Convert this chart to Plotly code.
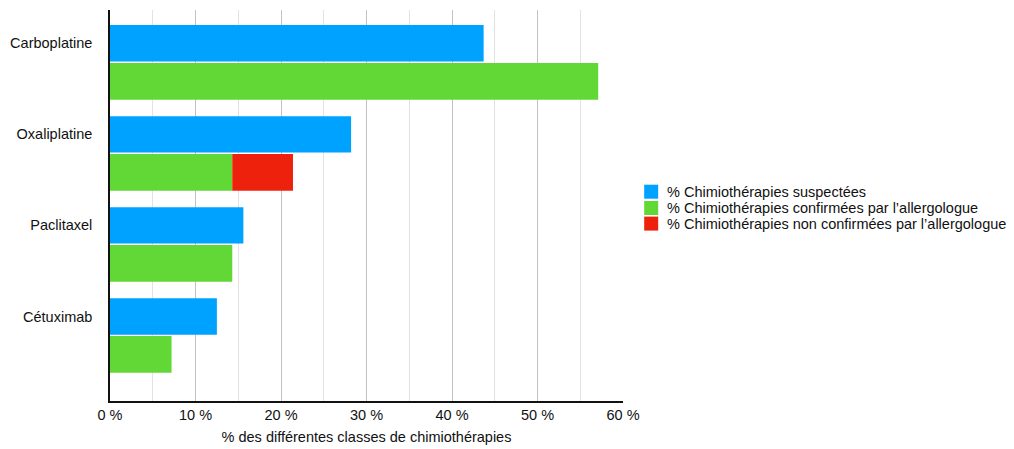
import plotly.graph_objects as go

categories = ["Carboplatine", "Oxaliplatine", "Paclitaxel", "Cétuximab"]
suspectees = [43.7, 28.2, 15.6, 12.5]
confirmees = [57.1, 14.3, 14.3, 7.2]
non_confirmees = [0, 7.1, 0, 0]

series_names = [
    "% Chimiothérapies suspectées",
    "% Chimiothérapies confirmées par l\u2019allergologue",
    "% Chimiothérapies non confirmées par l\u2019allergologue",
]
series_colors = ["#00A2FF", "#61D836", "#EE220C"]
tick_vals = [0, 10, 20, 30, 40, 50, 60]
tick_text = [f"{v} %" for v in tick_vals]

FONT = "Arial, Liberation Sans, sans-serif"
FS = 14.5

# plot area in pixels (for positioning the legend in paper units)
PX0, PX1, PY0, PY1 = 110, 623.3, 10, 401


def px_to_paper_x(px):
    return (px - PX0) / (PX1 - PX0)


def px_to_paper_y(py):
    return (PY1 - py) / (PY1 - PY0)


fig = go.Figure()
fig.add_trace(go.Bar(
    y=categories, x=suspectees, orientation="h", name=series_names[0],
    marker=dict(color=series_colors[0], line=dict(width=0)), offset=-0.2, width=0.4,
))
fig.add_trace(go.Bar(
    y=categories, x=confirmees, orientation="h", name=series_names[1],
    marker=dict(color=series_colors[1], line=dict(width=0)), offset=0.215, width=0.405,
))
fig.add_trace(go.Bar(
    y=categories, x=non_confirmees, base=confirmees, orientation="h", name=series_names[2],
    marker=dict(color=series_colors[2], line=dict(width=0)), offset=0.215, width=0.405,
))

# manual legend (compact spacing as in the reference)
legend_rows_px = [191.7, 208.0, 223.6]
shapes = []
annotations = []
for name, color, cy in zip(series_names, series_colors, legend_rows_px):
    shapes.append(dict(
        type="rect", xref="paper", yref="paper",
        x0=px_to_paper_x(644.5), x1=px_to_paper_x(658.5),
        y0=px_to_paper_y(cy + 7), y1=px_to_paper_y(cy - 7),
        fillcolor=color, line=dict(width=0), layer="above",
    ))
    annotations.append(dict(
        xref="paper", yref="paper", x=px_to_paper_x(665.5), y=px_to_paper_y(cy),
        xanchor="left", yanchor="middle", text=name, showarrow=False,
        font=dict(family=FONT, size=FS, color="#111"),
    ))

fig.update_layout(
    width=1014, height=449,
    margin=dict(l=PX0, r=1014 - PX1, t=PY0, b=449 - PY1, autoexpand=False),
    paper_bgcolor="white", plot_bgcolor="white",
    barmode="overlay",
    font=dict(family=FONT, size=FS, color="#111"),
    showlegend=False,
    shapes=shapes,
    annotations=annotations,
    xaxis=dict(
        range=[0, 60], tickvals=tick_vals, ticktext=tick_text,
        showgrid=True, gridcolor="#c2c2c2", gridwidth=1,
        minor=dict(dtick=5, showgrid=True, gridcolor="#e2e2e2", gridwidth=1),
        showline=True, linecolor="#111", linewidth=1.5,
        zeroline=False, ticks="", fixedrange=True, automargin=False,
        title=dict(text="% des différentes classes de chimiothérapies", font=dict(size=FS), standoff=10),
        tickfont=dict(size=FS),
    ),
    yaxis=dict(
        type="category", categoryorder="array", categoryarray=categories,
        range=[3.929, -0.366], automargin=False, fixedrange=True,
        showgrid=False, showline=True, linecolor="#111", linewidth=1.5,
        zeroline=False, ticks="", ticklabelstandoff=13,
        tickfont=dict(size=FS),
    ),
)

fig.write_html(
    "out.html",
    config={"displayModeBar": False},
    post_script="document.body.style.margin='0';",
)
